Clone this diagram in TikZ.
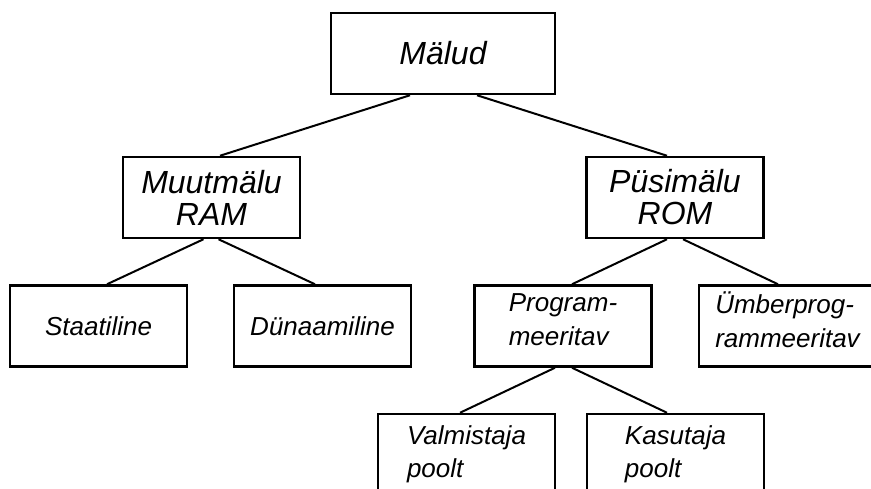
\documentclass[tikz,border=0pt]{standalone}
\usepackage{fontspec}
\setmainfont{Liberation Sans}
\begin{document}
\begin{tikzpicture}[x=1pt,y=-1pt]
	\useasboundingbox (0,0) rectangle (871,489);
	\clip (0,0) rectangle (871,489);
	\begin{scope}[every node/.style={rectangle,draw,line width=2.5pt,minimum width=177pt,minimum height=81pt,align=center,font=\itshape\fontsize{32}{32}\selectfont}]
		\node[minimum width=224pt] (M) at (443,53.5) {Mälud};
		\node (RAM) at (211.5,197.5) {Muutmälu\\RAM};
		\node (ROM) at (675,197.5) {Püsimälu\\ROM};
	\end{scope}
	
	\begin{scope}[every node/.style={rectangle,draw,line width=2.5pt,minimum width=177pt,minimum height=81pt,font=\itshape\fontsize{26}{34}\selectfont}]
		\node (S) at (98.5,326) {Staatiline};
		\node (D) at (322.5,326) {Dünaamiline};
		\node[align=left] (P) at (563,326) {Program-\\meeritav\rule[-13pt]{0pt}{0pt}};
		\node[align=left] (U) at (787.5,326) {Ümberprog-\\rammeeritav\rule[-13pt]{0pt}{0pt}};
		\node[align=left,font=\itshape\fontsize{26}{33}\selectfont] (V) at (466.5,454.5) {Valmistaja\\poolt};
		\node[align=left,font=\itshape\fontsize{26}{33}\selectfont] (K) at (675.5,454.5) {Kasutaja\\poolt};
	\end{scope}
	
	\begin{scope}[every edge/.style={draw=black,line width=2pt}]
		\path ([xshift=-33pt]M.south) edge ([xshift=8.5pt]RAM.north);
		\path ([xshift=34pt]M.south) edge ([xshift=-8pt]ROM.north);
		\path ([xshift=-8pt]RAM.south) edge ([xshift=8.5pt]S.north);
		\path ([xshift=7pt]RAM.south) edge ([xshift=-7.5pt]D.north);
		\path ([xshift=-8pt]ROM.south) edge ([xshift=9pt]P.north);
		\path ([xshift=8pt]ROM.south) edge ([xshift=-9.5pt]U.north);
		\path ([xshift=-8pt]P.south) edge ([xshift=-6.5pt]V.north);
		\path ([xshift=9pt]P.south) edge ([xshift=-8.5pt]K.north);
	\end{scope}
\end{tikzpicture}
\end{document}
